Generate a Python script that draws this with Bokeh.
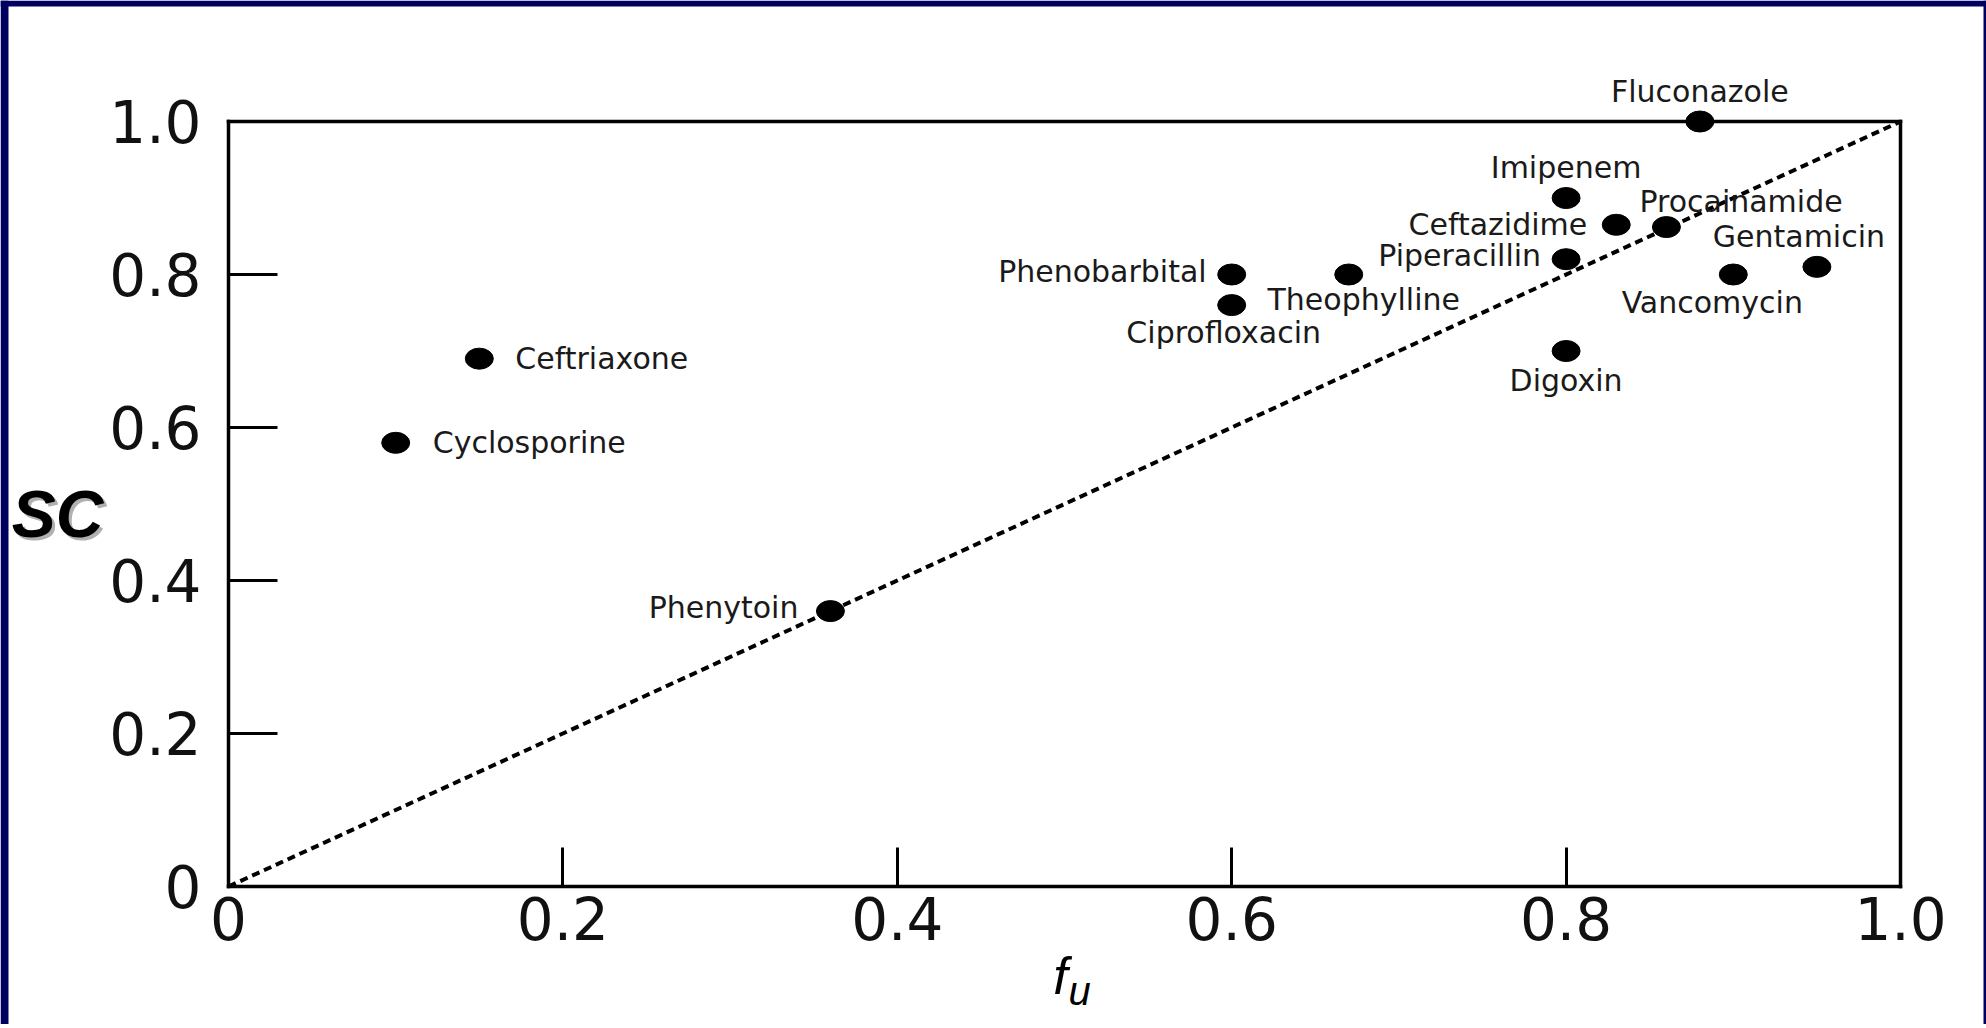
from bokeh.plotting import figure
from bokeh.models import (ColumnDataSource, LabelSet, Label, Range1d, FixedTicker,
                          LinearAxis, BoxAnnotation)
from bokeh.core.properties import value
from bokeh.embed import file_html
from bokeh.resources import INLINE

# ---------------- data ----------------
drugs = ["Fluconazole", "Imipenem", "Ceftazidime", "Procainamide", "Piperacillin",
         "Gentamicin", "Vancomycin", "Digoxin", "Phenobarbital", "Theophylline",
         "Ciprofloxacin", "Ceftriaxone", "Cyclosporine", "Phenytoin"]
fu = [0.88, 0.80, 0.83, 0.86, 0.80, 0.95, 0.90, 0.80, 0.60, 0.67, 0.60, 0.15, 0.10, 0.36]
sc = [1.00, 0.90, 0.865, 0.862, 0.82, 0.81, 0.80, 0.70, 0.80, 0.80, 0.76, 0.69, 0.58, 0.36]

x_ticks = [0, 0.2, 0.4, 0.6, 0.8, 1.0]
x_tick_labels = ["0", "0.2", "0.4", "0.6", "0.8", "1.0"]
y_ticks = [0, 0.2, 0.4, 0.6, 0.8, 1.0]
y_tick_labels = ["0", "0.2", "0.4", "0.6", "0.8", "1.0"]

axis_min, axis_max = 0.0, 1.0
unity_x = [0, 1]
unity_y = [0, 1]

# label placement (screen pixels, y positive = up)
label_align = ["center", "center", "right", "left", "right", "center", "center",
               "center", "right", "center", "center", "left", "left", "right"]
label_dx = [0, 0, -29, -27, -25, -18, -21, 0, -25, 15, -8, 36, 37, -32]
label_dy = [30, 31, 0, 26, 4, 30, -28, -29, 3, -25, -27, 0, 0, 4]

# ---------------- layout (page pixels) ----------------
W, H = 1986, 1024
BOX_LEFT, BOX_TOP = 228, 121      # page position of the data box corners
BOX_W, BOX_H = 1672, 765
BOX_BOTTOM = H - (BOX_TOP + BOX_H)

def px_to_x(px):
    return (px - BOX_LEFT) / BOX_W

def py_to_y(py):
    return (BOX_TOP + BOX_H - py) / BOX_H

p = figure(width=W, height=H, output_backend="svg", toolbar_location=None,
           x_range=Range1d(px_to_x(0), px_to_x(W)), y_range=Range1d(py_to_y(H), py_to_y(0)),
           min_border=0, min_border_left=0, min_border_right=0,
           min_border_top=0, min_border_bottom=0)
p.background_fill_color = "white"
p.border_fill_color = "white"
p.outline_line_color = None
p.xgrid.visible = False
p.ygrid.visible = False

# slide frame (navy strips on the left, top and right)
NAVY = "#000060"
for kw in (dict(right=px_to_x(8)), dict(left=px_to_x(1983)), dict(bottom=py_to_y(6))):
    p.add_layout(BoxAnnotation(fill_color=NAVY, fill_alpha=1, line_color=None, level="underlay", **kw))

def style_axis(ax):
    ax.fixed_location = axis_min
    ax.bounds = (axis_min, axis_max)
    ax.minor_tick_line_color = None
    ax.major_tick_out = 0
    ax.axis_line_width = 3.5
    ax.axis_line_cap = "square"
    ax.major_tick_line_width = 3
    ax.major_label_text_font = "DejaVu Sans"
    ax.major_label_text_font_size = "58px"
    ax.major_label_text_color = "#111111"

for ax, ticks, labels in ((p.xaxis[0], x_ticks, x_tick_labels), (p.yaxis[0], y_ticks, y_tick_labels)):
    style_axis(ax)
    ax.ticker = FixedTicker(ticks=ticks)
    ax.major_label_overrides = {t: l for t, l in zip(ticks, labels)}

p.xaxis.major_tick_in = 39
p.yaxis.major_tick_in = 49
p.xaxis.major_label_standoff = 10
p.yaxis.major_label_standoff = 27

# top and right sides of the box
for side in ("above", "right"):
    ax = LinearAxis(ticker=FixedTicker(ticks=[]), fixed_location=axis_max,
                    bounds=(axis_min, axis_max), axis_line_width=3.5, axis_line_cap="square",
                    minor_tick_line_color=None, major_tick_line_color=None)
    p.add_layout(ax, side)

# unity line
p.line(unity_x, unity_y, line_color="black", line_width=4, line_dash="8 5")

src = ColumnDataSource(dict(x=fu, y=sc, name=drugs, align=label_align,
                            dx=label_dx, dy=label_dy))
p.ellipse(x="x", y="y", width=28, height=21, width_units="screen", height_units="screen",
          source=src, fill_color="black", line_color="black")

labels = LabelSet(x="x", y="y", text="name", source=src, x_offset="dx", y_offset="dy",
                  text_align="align", text_baseline=value("middle"),
                  text_font=value("DejaVu Sans"), text_font_size=value("30px"),
                  text_color=value("#1a1a1a"))
p.add_layout(labels)

# axis titles
sc_x, sc_y = px_to_x(57), py_to_y(513)
p.add_layout(Label(x=sc_x, y=sc_y, x_offset=3, y_offset=-3, text="SC",
                   text_font="Liberation Sans", text_font_style="bold italic",
                   text_font_size="66px", text_color="#b0b0b0",
                   text_align="center", text_baseline="middle"))
p.add_layout(Label(x=sc_x, y=sc_y, text="SC",
                   text_font="Liberation Sans", text_font_style="bold italic",
                   text_font_size="66px", text_color="black",
                   text_align="center", text_baseline="middle"))
p.add_layout(Label(x=px_to_x(1060), y=py_to_y(975), text="f",
                   text_font="Liberation Sans", text_font_style="italic",
                   text_font_size="52px", text_color="black",
                   text_align="center", text_baseline="middle"))
p.add_layout(Label(x=px_to_x(1079), y=py_to_y(990), text="u",
                   text_font="Liberation Sans", text_font_style="italic",
                   text_font_size="40px", text_color="black",
                   text_align="center", text_baseline="middle"))

open("out.html", "w").write(file_html(p, INLINE))
